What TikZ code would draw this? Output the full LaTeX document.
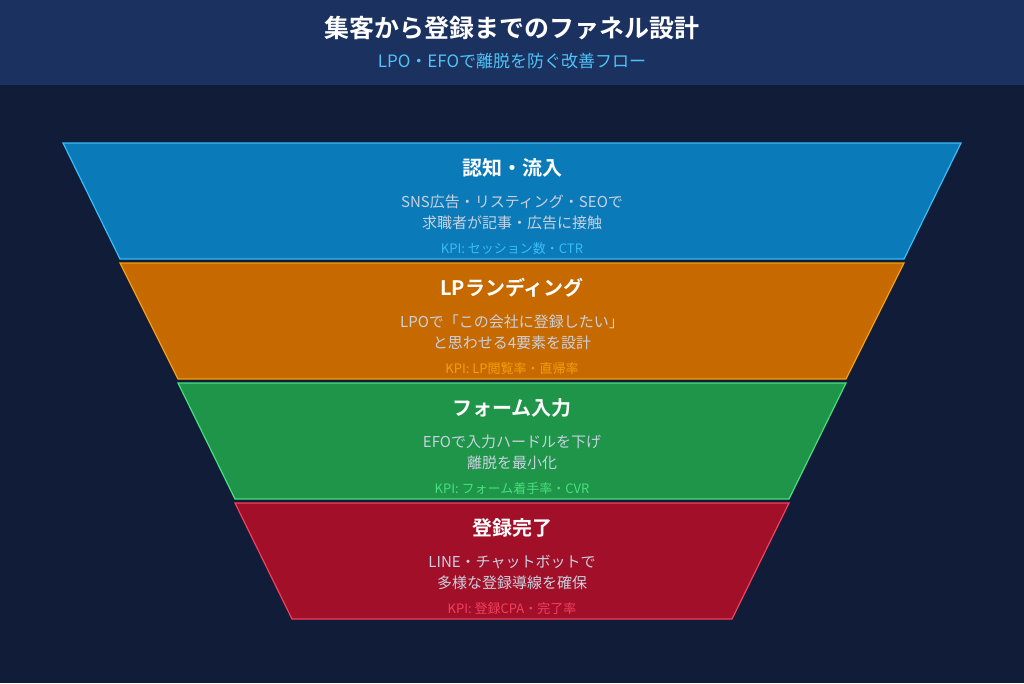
\documentclass[tikz,border=0pt]{standalone}
\usepackage{fontspec}
\setmainfont{Noto Sans CJK JP}
\newfontfamily\jpb{Noto Sans CJK JP Bold}
\definecolor{bg}{HTML}{101C38}
\definecolor{hdr}{HTML}{1B3160}
\definecolor{sub}{HTML}{4FC3F7}
\definecolor{body}{HTML}{C9D1E0}
\definecolor{fA}{HTML}{0A7AB8}\definecolor{bA}{HTML}{38BDF8}
\definecolor{fB}{HTML}{C66A00}\definecolor{bB}{HTML}{F59E0B}
\definecolor{fC}{HTML}{1E9548}\definecolor{bC}{HTML}{4ADE80}
\definecolor{fD}{HTML}{A11028}\definecolor{bD}{HTML}{F43F5E}
\tikzset{x=1pt,y=-1pt,
 ttl/.style={text=white,font=\jpb\fontsize{20}{24}\selectfont},
 bod/.style={text=body,font=\fontsize{15}{21}\selectfont,align=center},
 kpi/.style={font=\fontsize{13}{16}\selectfont}}
\begin{document}
\begin{tikzpicture}
\useasboundingbox (0,0) rectangle (1024,683);
\fill[bg] (0,0) rectangle (1024,683);
\fill[hdr] (0,0) rectangle (1024,85);
\node[text=white,font=\jpb\fontsize{25}{30}\selectfont] (t) at (512,28) {集客から登録までのファネル設計};
\node[text=sub,font=\fontsize{17}{20}\selectfont] (s) at (512,61) {LPO・EFOで離脱を防ぐ改善フロー};
\def\stage#1#2#3#4#5#6#7#8#9{%
 \filldraw[fill=#7,draw=#8,line width=1.2pt] (#2,#1) -- (1024-#2,#1) -- (1024-#3,#1+116) -- (#3,#1+116) -- cycle;
 \node[ttl] (t#1) at (512,#1+25) {#4};
 \node[bod] (b#1) at (512,#1+69) {#5};
 \node[kpi,text=#8] (k#1) at (512,#1+106) {#6};}
\stage{143}{63}{120}{認知・流入}{SNS広告・リスティング・SEOで\\求職者が記事・広告に接触}{KPI: セッション数・CTR}{fA}{bA}{}
\stage{263}{120}{178}{LPランディング}{LPOで「この会社に登録したい」\\と思わせる4要素を設計}{KPI: LP閲覧率・直帰率}{fB}{bB}{}
\stage{383}{178}{235}{フォーム入力}{EFOで入力ハードルを下げ\\離脱を最小化}{KPI: フォーム着手率・CVR}{fC}{bC}{}
\stage{503}{235}{292}{登録完了}{LINE・チャットボットで\\多様な登録導線を確保}{KPI: 登録CPA・完了率}{fD}{bD}{}
\end{tikzpicture}
\end{document}
